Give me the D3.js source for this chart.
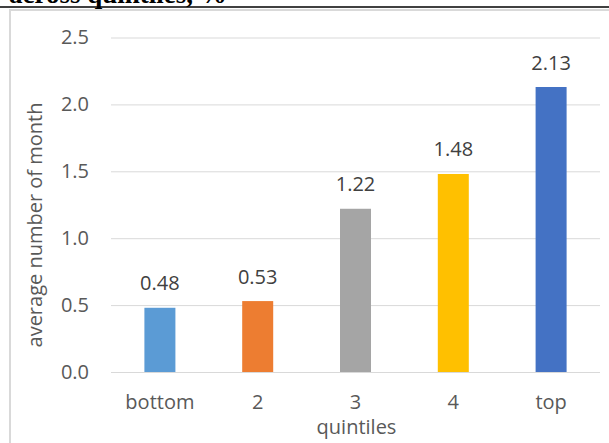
<!DOCTYPE html>
<html>
<head>
<meta charset="utf-8">
<script src="https://cdn.jsdelivr.net/npm/d3@7"></script>
<style>
  html, body { margin: 0; padding: 0; background: #fff; overflow: hidden; }
  svg { display: block; }
</style>
</head>
<body>
<svg id="chart" width="609" height="443"></svg>
<script>
// ---- data ----
const categories = ["bottom", "2", "3", "4", "top"];
const values = [0.48, 0.53, 1.22, 1.48, 2.13];
const barColors = ["#5B9BD5", "#ED7D31", "#A5A5A5", "#FFC000", "#4472C4"];
const yTicks = [0, 0.5, 1.0, 1.5, 2.0, 2.5];
const titleText = "across quintiles, %";
const yTitle = "average number of month";
const xTitle = "quintiles";

(function () {
// ---- layout ----
const W = 609, H = 443;
const plotLeft = 111, plotRight = 600, plotTop = 37.5, plotBottom = 372;
const font = "'Open Sans', 'Noto Sans', sans-serif";
const fs = 20;
const textColor = "#595959";

const svg = d3.select("#chart");
svg.append("rect").attr("width", W).attr("height", H).attr("fill", "#fff");

// cut-off title and rule above the chart
svg.append("text")
  .attr("x", 9).attr("y", 3)
  .attr("font-family", "'Liberation Serif', 'Times New Roman', serif")
  .attr("font-weight", "bold")
  .attr("font-size", 27)
  .attr("fill", "#000")
  .text(titleText);
svg.append("line")
  .attr("x1", 0).attr("x2", W).attr("y1", 7).attr("y2", 7)
  .attr("stroke", "#000").attr("stroke-width", 1.6);

// chart frame (left and top edges visible)
svg.append("path")
  .attr("d", `M10,${H} L10,10 L${W},10`)
  .attr("fill", "none").attr("stroke", "#d9d9d9").attr("stroke-width", 2);

// ---- scales ----
const x = d3.scaleBand().domain(categories).range([plotLeft, plotRight]).padding(0);
const y = d3.scaleLinear().domain([0, 2.5]).range([plotBottom, plotTop]);
const barW = x.bandwidth() * 0.317;

// ---- y axis with gridlines ----
const yAxis = d3.axisLeft(y)
  .tickValues(yTicks)
  .tickFormat(d3.format(".1f"))
  .tickSize(-(plotRight - plotLeft))
  .tickPadding(22);
const gy = svg.append("g").attr("transform", `translate(${plotLeft},0)`).call(yAxis);
gy.select(".domain").remove();
gy.selectAll(".tick line").attr("stroke", "#d9d9d9").attr("stroke-width", 1);
gy.selectAll(".tick text")
  .attr("font-family", font).attr("font-size", fs).attr("fill", textColor);

// ---- bars ----
svg.append("g").selectAll("rect")
  .data(values)
  .join("rect")
  .attr("x", (d, i) => x(categories[i]) + x.bandwidth() / 2 - barW / 2)
  .attr("y", d => y(d))
  .attr("width", barW)
  .attr("height", d => y(0) - y(d))
  .attr("fill", (d, i) => barColors[i]);

// ---- value labels ----
svg.append("g").selectAll("text")
  .data(values)
  .join("text")
  .attr("x", (d, i) => x(categories[i]) + x.bandwidth() / 2)
  .attr("y", d => y(d) - 17.5)
  .attr("text-anchor", "middle")
  .attr("font-family", font).attr("font-size", fs).attr("fill", "#404040")
  .text(d => d.toFixed(2));

// ---- x axis ----
const xAxis = d3.axisBottom(x).tickSize(0);
const gx = svg.append("g").attr("transform", `translate(0,${plotBottom})`).call(xAxis);
gx.select(".domain").remove();
gx.selectAll(".tick text")
  .attr("y", 409 - plotBottom).attr("dy", 0)
  .attr("font-family", font).attr("font-size", fs).attr("fill", textColor);

// ---- axis titles ----
svg.append("text")
  .attr("x", (plotLeft + plotRight) / 2 + 1).attr("y", 434)
  .attr("text-anchor", "middle")
  .attr("font-family", font).attr("font-size", fs).attr("fill", textColor)
  .text(xTitle);

svg.append("text")
  .attr("transform", `translate(42,225) rotate(-90)`)
  .attr("text-anchor", "middle")
  .attr("font-family", font).attr("font-size", fs).attr("fill", textColor)
  .text(yTitle);
})();
</script>
</body>
</html>
